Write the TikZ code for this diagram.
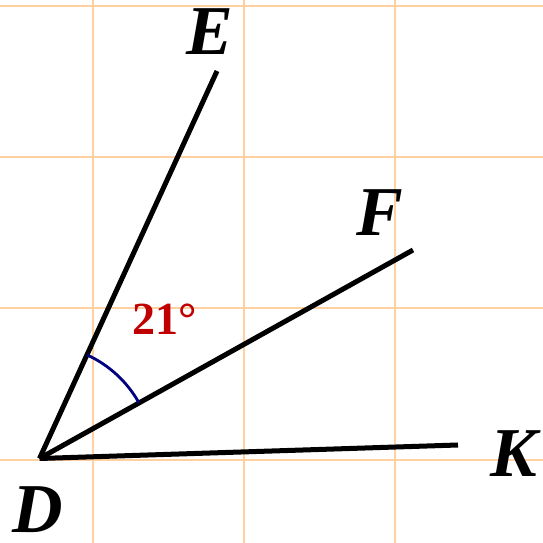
\documentclass[tikz,border=0pt]{standalone}
\usepackage{fontspec}
\setmainfont{Liberation Serif}
\usepackage{xcolor}
\usepackage{tikz}
\usetikzlibrary{calc, positioning}
\definecolor{gridorange}{RGB}{255,208,160}
\definecolor{anglered}{RGB}{192,0,0}
\definecolor{arcblue}{RGB}{0,0,128}
\tikzset{
    gridline/.style={gridorange, line width=2.5pt},
    ray/.style={black, line width=5pt, line cap=butt},
    ptlabel/.style={font=\fontsize{70}{70}\selectfont\bfseries\itshape, inner sep=0pt}
}

\begin{document}
\begin{tikzpicture}[x=1pt, y=1pt,
    anglelabel/.style={font=\fontsize{46}{46}\selectfont\bfseries, text=anglered, inner sep=0pt}]
    \useasboundingbox (0,0) rectangle (543,543);

    % Grid
    \foreach \gx in {93,244,395}
        \draw [gridline] (\gx,0) -- (\gx,543);
    \foreach \gy in {83,235,386,537}
        \draw [gridline] (0,\gy) -- (543,\gy);

    % Points
    \coordinate (D) at (39.5,84.5);
    \coordinate (E) at (217,472);
    \coordinate (F) at (413,293);
    \coordinate (K) at (458,98);

    % Rays
    \draw [ray] (D) -- (E);
    \draw [ray] (D) -- (F);
    \draw [ray] (D) -- (K);

    % Angle mark
    \draw [arcblue, line width=2.8pt] ($(D)+(65.4:114)$) arc (65.4:29.2:114);

    % Labels
    \node (lE) [ptlabel] at (210,511) {E};
    \node (lF) [ptlabel] at (380,330) {F};
    \node (lK) [ptlabel] at (514,89) {K};
    \node (lD) [ptlabel] at (38,33) {D};
    \node (ang) [anglelabel] at (165,224) {21°};
\end{tikzpicture}
\end{document}
